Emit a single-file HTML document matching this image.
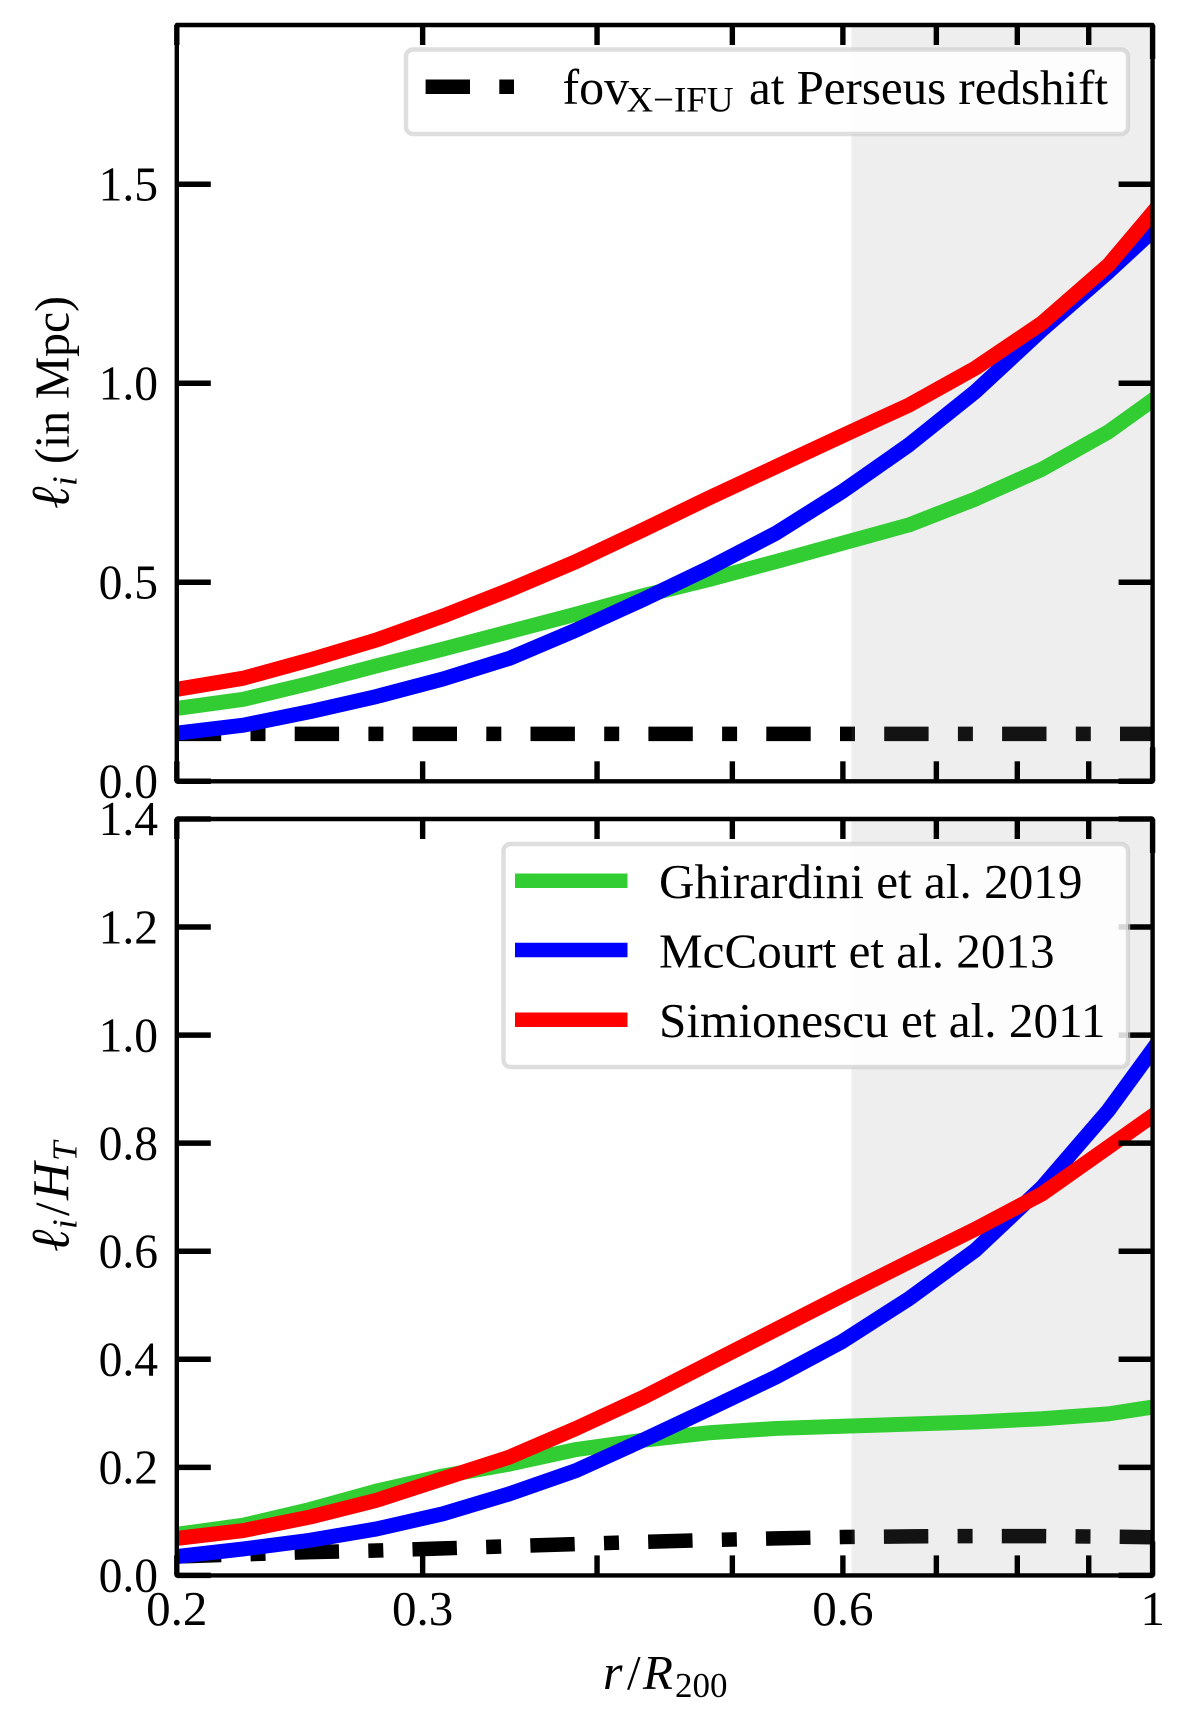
<!DOCTYPE html>
<html lang="en">
<head>
<meta charset="utf-8">
<title>Injection scale profiles</title>
<style>
html,body{margin:0;padding:0;background:#fff;width:1200px;height:1721px;overflow:hidden}
svg{display:block}
text{font-family:"Liberation Serif","DejaVu Serif",serif;fill:#000}
</style>
</head>
<body>
<svg id="chart" xmlns="http://www.w3.org/2000/svg" width="1200" height="1721" viewBox="0 0 1200 1721"></svg>
<script>
// ---- shared data ----
const radius = [0.2, 0.2232, 0.2491, 0.278, 0.3102, 0.3462, 0.3864, 0.4312, 0.4812, 0.5371, 0.5994, 0.6689, 0.7465, 0.8331, 0.9298, 1.0377];
const xTicks = [0.2, 0.3, 0.4, 0.5, 0.6, 0.7, 0.8, 0.9, 1];
const xTickLabels = ['0.2', '0.3', '', '', '0.6', '', '', '', '1'];
const shadeStart = 0.6085;
const shadeEnd = 1;
// ---- top panel: injection scale in Mpc ----
const topGhirardini = [0.183, 0.206, 0.246, 0.290, 0.332, 0.376, 0.420, 0.466, 0.507, 0.552, 0.598, 0.644, 0.709, 0.784, 0.878, 0.998];
const topMcCourt = [0.121, 0.141, 0.175, 0.213, 0.257, 0.309, 0.380, 0.456, 0.536, 0.623, 0.728, 0.845, 0.979, 1.134, 1.280, 1.435];
const topSimionescu = [0.231, 0.259, 0.305, 0.355, 0.415, 0.481, 0.552, 0.631, 0.712, 0.790, 0.868, 0.945, 1.038, 1.151, 1.297, 1.495];
const topFov = [0.119, 0.119, 0.119, 0.119, 0.119, 0.119, 0.119, 0.119, 0.119, 0.119, 0.119, 0.119, 0.119, 0.119, 0.119, 0.119];
const topYTicks = [0, 0.5, 1, 1.5];
const topYTickLabels = ['0.0', '0.5', '1.0', '1.5'];
const topYMax = 1.9;
// ---- bottom panel: injection scale over temperature scale height ----
const botGhirardini = [0.076, 0.093, 0.122, 0.156, 0.184, 0.206, 0.233, 0.250, 0.264, 0.272, 0.276, 0.280, 0.284, 0.290, 0.299, 0.318];
const botMcCourt = [0.035, 0.049, 0.065, 0.086, 0.114, 0.151, 0.194, 0.250, 0.308, 0.367, 0.433, 0.512, 0.602, 0.718, 0.861, 1.030];
const botSimionescu = [0.0685, 0.083, 0.108, 0.139, 0.179, 0.219, 0.272, 0.329, 0.392, 0.455, 0.518, 0.580, 0.641, 0.706, 0.793, 0.880];
const botFov = [0.035, 0.039, 0.043, 0.046, 0.050, 0.054, 0.058, 0.062, 0.0655, 0.0685, 0.071, 0.0722, 0.0728, 0.0728, 0.0718, 0.070];
const botYTicks = [0, 0.2, 0.4, 0.6, 0.8, 1, 1.2, 1.4];
const botYTickLabels = ['0.0', '0.2', '0.4', '0.6', '0.8', '1.0', '1.2', '1.4'];
const botYMax = 1.4;

const NS = 'http://www.w3.org/2000/svg';
const svg = document.getElementById('chart');
const LEFT = 176.8, RIGHT = 1152.6;
const GREEN = '#32cd32', BLUE = '#0000ff', RED = '#ff0000';
const DASH = '44.4 29.3 15 29.2';
const LINE_W = 14.5;
const CURVE_W = 15;

function xScale(r) {
  return LEFT + (RIGHT - LEFT) * Math.log(r / 0.2) / Math.log(1 / 0.2);
}
function yScaleFor(top, bottom, ymax) {
  return function (v) { return bottom - (bottom - top) * v / ymax; };
}
function make(tag, attrs, parent) {
  const el = document.createElementNS(NS, tag);
  for (const k in attrs) el.setAttribute(k, attrs[k]);
  (parent || svg).appendChild(el);
  return el;
}
function series(parent, values, yScale, color, width, dash) {
  const pts = values.map(function (v, i) { return xScale(radius[i]).toFixed(2) + ',' + yScale(v).toFixed(2); }).join(' ');
  const attrs = { points: pts, fill: 'none', stroke: color, 'stroke-width': width, 'stroke-linejoin': 'round', 'stroke-linecap': 'butt' };
  if (dash) attrs['stroke-dasharray'] = dash;
  return make('polyline', attrs, parent);
}

function drawPanel(key, top, bottom, ymax, yTicks, yLabels, data, showXLabels) {
  const yScale = yScaleFor(top, bottom, ymax);
  const panel = make('g', {});
  
  

  const clipId = key + '-clip';
  const defs = make('defs', {}, panel);
  const clip = make('clipPath', { id: clipId }, defs);
  make('rect', { x: LEFT, y: top, width: RIGHT - LEFT, height: bottom - top }, clip);

  const plot = make('g', { 'clip-path': 'url(#' + clipId + ')' }, panel);

  const fov = series(plot, data.fov, yScale, '#000', LINE_W, DASH);
  
  

  const shade = make('rect', {
    x: xScale(shadeStart), y: top, width: xScale(shadeEnd) - xScale(shadeStart), height: bottom - top,
    fill: 'rgb(138,138,138)', 'fill-opacity': 0.14
  }, plot);
  
  

  const g1 = series(plot, data.ghirardini, yScale, GREEN, CURVE_W);
  
  
  const g2 = series(plot, data.mccourt, yScale, BLUE, CURVE_W);
  
  
  const g3 = series(plot, data.simionescu, yScale, RED, CURVE_W);
  
  

  // y ticks, both sides
  yTicks.forEach(function (v, i) {
    const y = yScale(v);
    const t = make('g', {}, panel);
    
    
    make('line', { x1: LEFT, x2: LEFT + 34, y1: y, y2: y, stroke: '#000', 'stroke-width': 5.5 }, t);
    make('line', { x1: RIGHT, x2: RIGHT - 34, y1: y, y2: y, stroke: '#000', 'stroke-width': 5.5 }, t);
    const lab = make('text', { transform: 'translate(158,' + (y + 16.2) + ') scale(0.97,1)', 'text-anchor': 'end', 'font-size': 49 }, t);
    lab.textContent = yLabels[i];
  });

  // x ticks, top and bottom
  xTicks.forEach(function (r, i) {
    const x = xScale(r);
    const len = r === 1 ? 34 : 20;
    const t = make('g', {}, panel);
    
    
    make('line', { x1: x, x2: x, y1: top, y2: top + len, stroke: '#000', 'stroke-width': 5.4 }, t);
    make('line', { x1: x, x2: x, y1: bottom, y2: bottom - len, stroke: '#000', 'stroke-width': 5.4 }, t);
    if (showXLabels && xTickLabels[i]) {
      const lab = make('text', { x: x, y: 1625, 'text-anchor': 'middle', 'font-size': 49 }, t);
      lab.textContent = xTickLabels[i];
    }
  });

  // frame
  const frame = make('rect', {
    x: LEFT, y: top, width: RIGHT - LEFT, height: bottom - top,
    fill: 'none', stroke: '#000', 'stroke-width': 4.4, 'stroke-linejoin': 'round'
  }, panel);
  
  
}

drawPanel('top', 25, 781.3, topYMax, topYTicks, topYTickLabels,
  { fov: topFov, ghirardini: topGhirardini, mccourt: topMcCourt, simionescu: topSimionescu }, false);
drawPanel('bottom', 819, 1575.4, botYMax, botYTicks, botYTickLabels,
  { fov: botFov, ghirardini: botGhirardini, mccourt: botMcCourt, simionescu: botSimionescu }, true);

// ---- legends ----
function legendBox(parent, x, y, w, h) {
  return make('rect', {
    x: x, y: y, width: w, height: h, rx: 7, ry: 7,
    fill: 'rgba(255,255,255,0.85)', stroke: 'rgba(204,204,204,0.65)', 'stroke-width': 4.5
  }, parent);
}
function textRun(parent, x, y, size, str, italic, fit) {
  const attrs = { x: x, y: y, 'font-size': size };
  if (italic) attrs['font-style'] = 'italic';
  if (fit) { attrs.textLength = fit; attrs.lengthAdjust = 'spacingAndGlyphs'; }
  const el = make('text', attrs, parent);
  el.textContent = str;
  return el;
}

const legendTop = make('g', {});


legendBox(legendTop, 406, 49.5, 722, 84.5);
const fovSample = make('line', { x1: 425.6, x2: 514, y1: 86.7, y2: 86.7, stroke: '#000', 'stroke-width': LINE_W, 'stroke-dasharray': '44.4 29.3 15 29.2' }, legendTop);


textRun(legendTop, 562.5, 104, 50, 'fov', false);
textRun(legendTop, 626.5, 111.5, 36, 'X\u2212IFU', false, 107);
textRun(legendTop, 749, 104, 49, 'at Perseus redshift', false, 359);

const legendBot = make('g', {});


legendBox(legendBot, 503.5, 844, 624.5, 223);
const legendRows = [
  { name: 'ghirardini', color: GREEN, y: 880.7, base: 898, label: 'Ghirardini et al. 2019', w: 423.5 },
  { name: 'mccourt', color: BLUE, y: 950, base: 967.5, label: 'McCourt et al. 2013', w: 395.5 },
  { name: 'simionescu', color: RED, y: 1019.7, base: 1037, label: 'Simionescu et al. 2011', w: 446.5 }
];
legendRows.forEach(function (row) {
  const entry = make('g', {}, legendBot);
  
  
  make('line', { x1: 515, x2: 627.5, y1: row.y, y2: row.y, stroke: row.color, 'stroke-width': LINE_W }, entry);
  textRun(entry, 659, row.base, 49, row.label, false, row.w);
});

// ---- axis titles ----
const xTitle = make('g', {});


textRun(xTitle, 603, 1689, 50, 'r', true);
textRun(xTitle, 627, 1689, 49, '/', false);
textRun(xTitle, 643, 1689, 49, 'R', true);
textRun(xTitle, 675, 1697, 35, '200', false);

const yTitleTop = make('g', { transform: 'translate(68.5,509) rotate(-90)' });


textRun(yTitleTop, 0, 0, 54, '\u2113', true);
textRun(yTitleTop, 23, 8, 35, 'i', true);
textRun(yTitleTop, 45, 0, 49, '(in Mpc)', false, 168);

const yTitleBot = make('g', { transform: 'translate(68.5,1252) rotate(-90)' });


textRun(yTitleBot, 0, 0, 54, '\u2113', true);
textRun(yTitleBot, 23, 8, 35, 'i', true);
textRun(yTitleBot, 36, 0, 49, '/', false);
textRun(yTitleBot, 52, 0, 52, 'H', true);
textRun(yTitleBot, 91, 8, 35, 'T', true);
</script>
</body>
</html>
